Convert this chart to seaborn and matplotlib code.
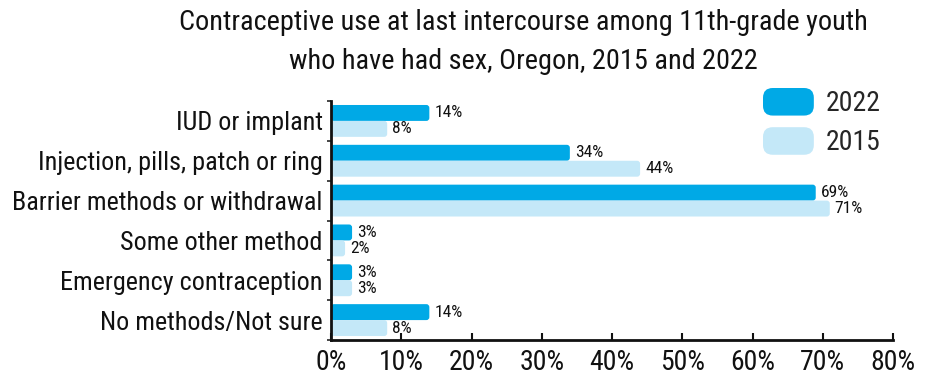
import matplotlib
matplotlib.use("Agg")
import matplotlib.pyplot as plt
import seaborn as sns
import pandas as pd
from matplotlib.patches import FancyBboxPatch
from matplotlib.legend_handler import HandlerPatch
from matplotlib.ticker import FixedLocator, PercentFormatter

categories = [
    "IUD or implant",
    "Injection, pills, patch or ring",
    "Barrier methods or withdrawal",
    "Some other method",
    "Emergency contraception",
    "No methods/Not sure",
]
years = ["2022", "2015"]
values_2022 = [14, 34, 69, 3, 3, 14]
values_2015 = [8, 44, 71, 2, 3, 8]
x_ticks = [0, 10, 20, 30, 40, 50, 60, 70, 80]

title = ("Contraceptive use at last intercourse among 11th-grade youth\n"
         "who have had sex, Oregon, 2015 and 2022")

colors = {"2022": "#00a9e6", "2015": "#c4e8f8"}

df = pd.DataFrame({
    "method": categories * 2,
    "year": ["2022"] * len(categories) + ["2015"] * len(categories),
    "pct": values_2022 + values_2015,
})

sns.set_theme(style="white")
plt.rcParams["font.family"] = ["Roboto Condensed", "Fira Sans Condensed", "DejaVu Sans"]

fig = plt.figure(figsize=(9.32, 3.77), dpi=100)
ax_top, ax_bot = 101, 340
ax = fig.add_axes([331 / 932, 1 - ax_bot / 377, (893 - 331) / 932, (ax_bot - ax_top) / 377])

sns.barplot(data=df, x="pct", y="method", hue="year", order=categories,
            hue_order=years, palette=colors, orient="h", width=0.8,
            saturation=1, legend=False, ax=ax)

ax.set_xlim(0, 80)
ax.set_ylim(len(categories) - 0.5, -0.5)

# swap square bars for rounded ones
px_x = 80 / (893 - 331)
px_y = len(categories) / (ax_bot - ax_top)
aspect = px_y / px_x
rects = list(ax.patches)
for r in rects:
    x0, y0 = r.get_x(), r.get_y()
    w, h = r.get_width(), r.get_height()
    fb = FancyBboxPatch((x0, y0), w, h,
                        boxstyle=f"round,pad=0,rounding_size={3 * px_x:.4f}",
                        mutation_aspect=aspect, facecolor=r.get_facecolor(),
                        edgecolor="none", zorder=2)
    ax.add_patch(fb)
    r.remove()

# value labels
for container, vals in zip(ax.containers, [values_2022, values_2015]):
    for bar, v in zip(container, vals):
        yc = bar.get_y() + bar.get_height() / 2
        ax.text(bar.get_width() + 0.7, yc, f"{v}%", va="center", ha="left",
                fontsize=12.5, color="#111111")

ax.xaxis.set_major_locator(FixedLocator(x_ticks))
ax.xaxis.set_major_formatter(PercentFormatter(decimals=0))
ax.tick_params(axis="x", direction="in", length=5, width=1.5, labelsize=20,
               pad=6.5, bottom=True, colors="#111111")
ax.tick_params(axis="y", length=0, labelsize=18.8, pad=6, labelcolor="#111111")
ax.set_yticks(range(len(categories)))
ax.yaxis.set_minor_locator(FixedLocator([i + 0.5 for i in range(-1, len(categories))]))
ax.tick_params(axis="y", which="minor", direction="out", length=3, width=1.2, left=True)

ax.set_xlabel("")
ax.set_ylabel("")
for side in ["top", "right"]:
    ax.spines[side].set_visible(False)
for side in ["left", "bottom"]:
    ax.spines[side].set_color("#111111")
    ax.spines[side].set_linewidth(2)


class RoundHandler(HandlerPatch):
    def create_artists(self, legend, orig_handle, xdescent, ydescent,
                       width, height, fontsize, trans):
        p = FancyBboxPatch((-xdescent, -ydescent), width, height,
                           boxstyle="round,pad=0,rounding_size=7",
                           facecolor=orig_handle.get_facecolor(),
                           edgecolor="none", transform=trans)
        return [p]


handles = [FancyBboxPatch((0, 0), 1, 1, facecolor=colors[y]) for y in years]
fig.legend(handles, years, loc="upper left", bbox_to_anchor=(763 / 932, 1 - 88 / 377),
           frameon=False, fontsize=20, handlelength=1.83, handleheight=1.15,
           handletextpad=0.42, labelspacing=0.36, borderpad=0, borderaxespad=0,
           handler_map={FancyBboxPatch: RoundHandler()})

fig.text(523 / 932, 1 - 9 / 377, title, ha="center", va="top", fontsize=20.3,
         linespacing=1.55, color="#111111")

fig.savefig("out.png", dpi=100)
